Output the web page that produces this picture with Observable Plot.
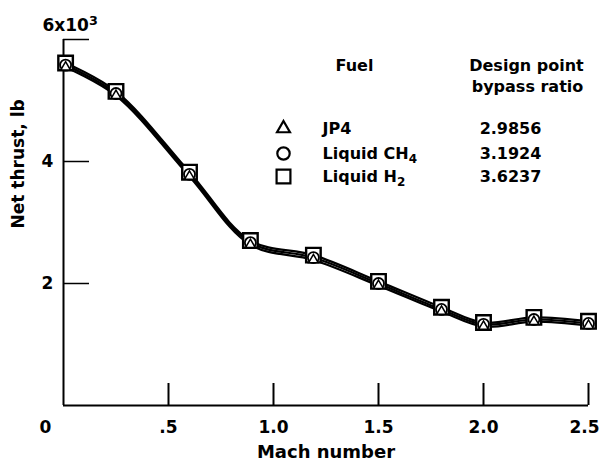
<!DOCTYPE html>
<html>
<head>
<meta charset="utf-8">
<script src="https://cdn.jsdelivr.net/npm/d3@7"></script>
<script src="https://cdn.jsdelivr.net/npm/@observablehq/plot@0.6"></script>
<style>
  html, body { margin: 0; padding: 0; background: #fff; }
  svg { display: block; }
</style>
</head>
<body>
<div id="chart"></div>
<script>
// ---- data ----
const mach = [0.01, 0.25, 0.6, 0.89, 1.19, 1.5, 1.8, 2.0, 2.24, 2.5];
const thrustJP4 = [5545, 5080, 3755, 2635, 2385, 1965, 1540, 1295, 1375, 1310];
const thrustCH4 = [5580, 5115, 3790, 2670, 2425, 2000, 1575, 1330, 1410, 1345];
const thrustH2  = [5615, 5150, 3825, 2705, 2465, 2035, 1610, 1360, 1445, 1380];

const fuels = ["JP4", "Liquid CH4", "Liquid H2"];
const bypassRatios = ["2.9856", "3.1924", "3.6237"];

const xTicks = [0.5, 1.0, 1.5, 2.0, 2.5];
const xTickLabels = [".5", "1.0", "1.5", "2.0", "2.5"];
const yTicks = [2000, 4000, 6000];
const yTickLabels = ["2", "4", "6x103"];

// ---- build table ----
const series = [
  {fuel: "JP4", values: thrustJP4},
  {fuel: "Liquid CH4", values: thrustCH4},
  {fuel: "Liquid H2", values: thrustH2}
];
const rows = series.flatMap(s => mach.map((m, i) => ({fuel: s.fuel, mach: m, thrust: s.values[i]})));

const W = 601, H = 465, ML = 63, MR = 13, MT = 39, MB = 60;
const FW = W - ML - MR, FH = H - MT - MB;
const font = "'DejaVu Sans', Verdana, sans-serif";
const T = {fontWeight: "bold", fontFamily: font, lineAnchor: "middle"};

const legendX = 283 - ML, legendTextX = 322 - ML, legendValX = 510 - ML;
const legendRowY = [128 - MT, 153 - MT, 176 - MT];
const legendSymbols = ["triangle", "circle", "square"];
const legendR = [4.8, 6.2, 7.8];

const lastTick = xTicks.length - 1;

const marks = [
  // axes lines
  Plot.ruleY([0], {stroke: "black", strokeWidth: 2}),
  Plot.ruleX([0], {stroke: "black", strokeWidth: 2}),
  // inward ticks
  Plot.ruleX(xTicks, {x: d => d, insetTop: FH - 22, stroke: "black", strokeWidth: 2}),
  Plot.ruleY(yTicks, {y: d => d, insetRight: FW - 26, stroke: "black", strokeWidth: 1.5}),
  // curves
  Plot.line(rows, {x: "mach", y: "thrust", z: "fuel", curve: "catmull-rom", stroke: "black", strokeWidth: 2.2}),
  // markers
  Plot.dot(rows.filter(d => d.fuel === "Liquid H2"), {x: "mach", y: "thrust", symbol: "square", r: 8.2, fill: "white", stroke: "black", strokeWidth: 2.4}),
  Plot.dot(rows.filter(d => d.fuel === "Liquid CH4"), {x: "mach", y: "thrust", symbol: "circle", r: 5.5, fill: "white", stroke: "black", strokeWidth: 1.8}),
  Plot.dot(rows.filter(d => d.fuel === "JP4"), {x: "mach", y: "thrust", symbol: "triangle", r: 3.6, fill: "white", stroke: "black", strokeWidth: 1.5}),
  // x tick labels
  Plot.text(xTicks.slice(0, lastTick), {x: d => d, text: (d, i) => xTickLabels[i], frameAnchor: "bottom", dy: 22, fontSize: 17, ...T}),
  Plot.text(xTicks.slice(lastTick), {x: d => d, text: () => xTickLabels[lastTick], frameAnchor: "bottom", dy: 22, dx: -4, fontSize: 17, ...T}),
  Plot.text(["0"], {frameAnchor: "bottom-left", dx: -18, dy: 22, textAnchor: "middle", fontSize: 17, ...T}),
  // y tick labels
  Plot.text(yTicks.slice(0, 2), {y: d => d, text: (d, i) => yTickLabels[i], frameAnchor: "left", dx: -16, textAnchor: "middle", fontSize: 17, ...T}),
  Plot.text([yTickLabels[2]], {frameAnchor: "top-left", dx: -21, dy: -14, textAnchor: "start", fontSize: 17, ...T}),
  // axis titles
  Plot.text(["Mach number"], {frameAnchor: "bottom", dy: 47, fontSize: 18, ...T}),
  Plot.text(["Net thrust, lb"], {frameAnchor: "left", dx: -45, dy: 6, rotate: -90, fontSize: 17, ...T}),
  // legend headers
  Plot.text(["Fuel"], {frameAnchor: "top-left", dx: 354 - ML, dy: 65 - MT, textAnchor: "middle", fontSize: 16, ...T}),
  Plot.text(["Design point"], {frameAnchor: "top-left", dx: 526 - ML, dy: 65 - MT, textAnchor: "middle", fontSize: 16, ...T}),
  Plot.text(["bypass ratio"], {frameAnchor: "top-left", dx: 527 - ML, dy: 86 - MT, textAnchor: "middle", fontSize: 16, ...T})
];

fuels.forEach((f, i) => {
  marks.push(Plot.dot([f], {frameAnchor: "top-left", dx: legendX, dy: legendRowY[i], symbol: legendSymbols[i], r: legendR[i], fill: "white", stroke: "black", strokeWidth: 2.2}));
  marks.push(Plot.text([f], {frameAnchor: "top-left", dx: legendTextX, dy: legendRowY[i], textAnchor: "start", fontSize: 16, ...T}));
  marks.push(Plot.text([bypassRatios[i]], {frameAnchor: "top-left", dx: legendValX, dy: legendRowY[i], textAnchor: "middle", fontSize: 16, ...T}));
});

const chart = Plot.plot({
  width: W, height: H,
  marginLeft: ML, marginRight: MR, marginTop: MT, marginBottom: MB,
  x: {domain: [0, 2.5], axis: null},
  y: {domain: [0, 6000], axis: null},
  style: {background: "white", color: "black", fontFamily: font},
  marks
});

// sub/superscripts
chart.querySelectorAll("text").forEach(t => {
  const s = t.textContent;
  const fix = (base, script, dy) => {
    t.textContent = base;
    const ts = document.createElementNS("http://www.w3.org/2000/svg", "tspan");
    ts.setAttribute("dy", dy);
    ts.setAttribute("font-size", "0.75em");
    ts.textContent = script;
    t.appendChild(ts);
  };
  if (s === "Liquid CH4") fix("Liquid CH", "4", "0.35em");
  else if (s === "Liquid H2") fix("Liquid H", "2", "0.35em");
  else if (s === "6x103") fix("6x10", "3", "-0.45em");
});

document.getElementById("chart").appendChild(chart);
</script>
</body>
</html>
